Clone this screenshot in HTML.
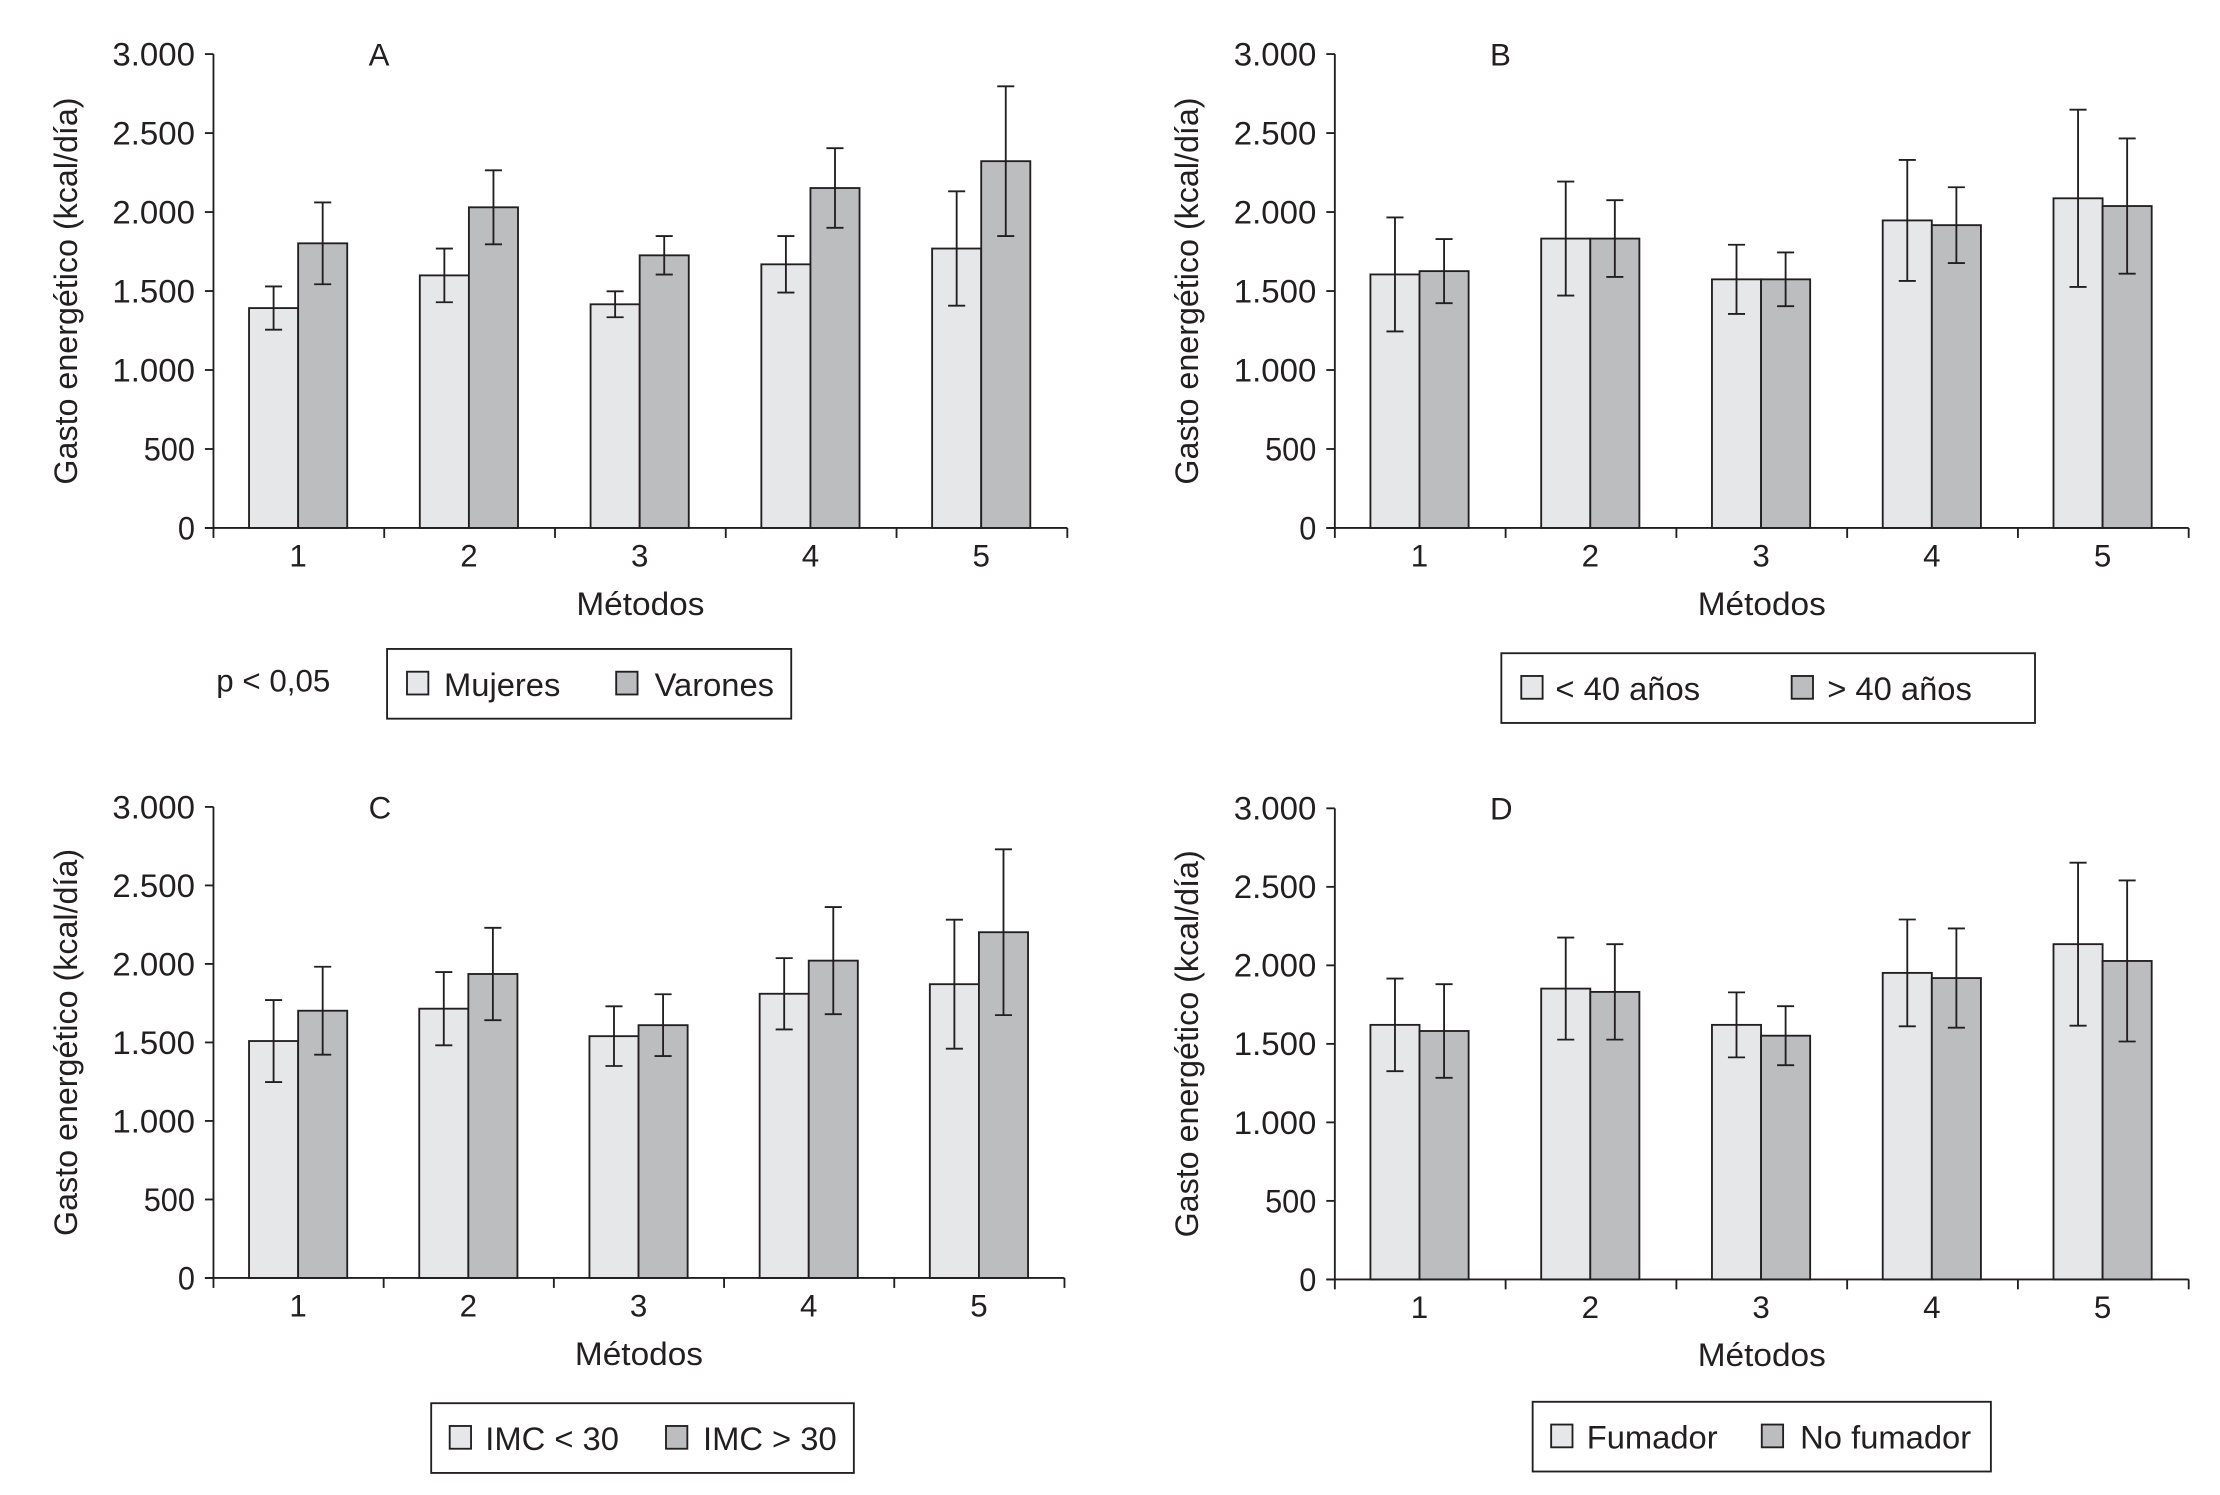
<!DOCTYPE html>
<html><head><meta charset="utf-8"><style>
html,body{margin:0;padding:0;background:#fff}
svg{display:block}
text{font-family:"Liberation Sans",sans-serif;fill:#231f20}
</style></head><body>
<svg id="chart" width="2220" height="1495" viewBox="0 0 1560 1050.5" preserveAspectRatio="none" xmlns="http://www.w3.org/2000/svg"></svg>
<script>
const categories = ["1","2","3","4","5"];
const yTicks = [0,500,1000,1500,2000,2500,3000];
const yTickLabels = ["0","500","1.000","1.500","2.000","2.500","3.000"];
// Panel A
const aLight = [1392,1599,1416,1669,1769];
const aLightErr = [137,170,82,179,362];
const aDark = [1802,2030,1726,2152,2322];
const aDarkErr = [259,234,122,252,474];
// Panel B
const bLight = [1605,1832,1574,1947,2087];
const bLightErr = [361,361,219,383,561];
const bDark = [1626,1832,1574,1917,2038];
const bDarkErr = [203,243,170,240,428];
// Panel C
const cLight = [1509,1715,1540,1810,1871];
const cLightErr = [261,233,190,227,411];
const cDark = [1702,1936,1610,2021,2202];
const cDarkErr = [280,294,197,341,528];
// Panel D
const dLight = [1621,1852,1621,1952,2135];
const dLightErr = [295,325,207,340,519];
const dDark = [1582,1831,1552,1919,2028];
const dDarkErr = [298,304,188,316,513];

const NS="http://www.w3.org/2000/svg";
const svg=document.getElementById('chart');
function mk(tag,attrs,parent){const e=document.createElementNS(NS,tag);for(const k in attrs)e.setAttribute(k,attrs[k]);(parent||svg).appendChild(e);return e;}

const panels=[
 {id:'a',letter:'A',x0:150,x1:750,top:38,y0:371,light:aLight,le:aLightErr,dark:aDark,de:aDarkErr,
  legend:{x:272,y:456,w:284,h:49,s1:286,t1:312,l1:'Mujeres',s2:433,t2:460,l2:'Varones'},note:true},
 {id:'b',letter:'B',x0:938,x1:1538,top:38,y0:371,light:bLight,le:bLightErr,dark:bDark,de:bDarkErr,
  legend:{x:1055,y:459,w:375,h:49,s1:1069,t1:1093,l1:'< 40 años',s2:1259,t2:1284,l2:'> 40 años'}},
 {id:'c',letter:'C',x0:150,x1:748,top:567,y0:898,light:cLight,le:cLightErr,dark:cDark,de:cDarkErr,
  legend:{x:303,y:986,w:297,h:49,s1:316,t1:341,l1:'IMC < 30',s2:468,t2:494,l2:'IMC > 30'}},
 {id:'d',letter:'D',x0:938,x1:1538,top:568,y0:899,light:dLight,le:dLightErr,dark:dDark,de:dDarkErr,
  legend:{x:1077,y:985,w:322,h:49,s1:1090,t1:1115,l1:'Fumador',s2:1238,t2:1265,l2:'No fumador'}}
];

panels.forEach(p=>{
  const g=mk('g',{});
  
  
  const yS=v=>p.y0-(v/3000)*(p.y0-p.top);
  const gw=(p.x1-p.x0)/categories.length;
  const bw=34.5;
  categories.forEach((c,i)=>{
    const gx=p.x0+i*gw+25;
    [[p.light,p.le,'#e6e7e9','light'],[p.dark,p.de,'#bcbdbf','dark']].forEach((s,j)=>{
      const v=s[0][i], e=s[1][i];
      const bx=gx+j*bw;
      const r=mk('rect',{x:bx,y:yS(v),width:bw,height:p.y0-yS(v),fill:s[2],stroke:'#231f20','stroke-width':1.3},g);
      
      
      const cx=bx+bw/2;
      const eb=mk('path',{d:`M${cx},${yS(v+e)}V${yS(v-e)}M${cx-6},${yS(v+e)}H${cx+6}M${cx-6},${yS(v-e)}H${cx+6}`,stroke:'#231f20','stroke-width':1.3,fill:'none'},g);
      
      
    });
  });
  const ya=mk('line',{x1:p.x0,y1:p.top,x2:p.x0,y2:p.y0,stroke:'#231f20','stroke-width':1.3},g);
  
  
  const xa=mk('line',{x1:p.x0-6,y1:p.y0,x2:p.x1,y2:p.y0,stroke:'#231f20','stroke-width':1.3},g);
  
  
  yTicks.forEach((t,i)=>{
    mk('line',{x1:p.x0-6,y1:yS(t),x2:p.x0,y2:yS(t),stroke:'#231f20','stroke-width':1.3},g);
    const len=yTickLabels[i].length;
    const tl=mk('text',{x:p.x0-13,y:yS(t)+8,'text-anchor':'end','font-size':23,textLength:len>3?58:(len*12),lengthAdjust:'spacingAndGlyphs'},g);
    tl.textContent=yTickLabels[i];
    
    
  });
  for(let i=0;i<=categories.length;i++){
    mk('line',{x1:p.x0+i*gw,y1:p.y0,x2:p.x0+i*gw,y2:p.y0+7,stroke:'#231f20','stroke-width':1.3},g);
  }
  categories.forEach((c,i)=>{
    const t=mk('text',{x:p.x0+i*gw+25+bw,y:p.y0+27,'text-anchor':'middle','font-size':22},g);
    t.textContent=c;
    
    
  });
  const xt=mk('text',{x:(p.x0+p.x1)/2,y:p.y0+61,'text-anchor':'middle','font-size':23,textLength:90,lengthAdjust:'spacingAndGlyphs'},g);
  xt.textContent='Métodos';
  
  
  const cy=(p.top+p.y0)/2;
  const yt=mk('text',{x:0,y:0,'text-anchor':'middle','font-size':22.5,textLength:272,lengthAdjust:'spacingAndGlyphs',transform:`translate(${p.x0-96},${cy}) rotate(-90)`},g);
  yt.textContent='Gasto energético (kcal/día)';
  
  
  const lt=mk('text',{x:p.x0+109,y:p.top+8,'font-size':22},g);
  lt.textContent=p.letter;
  
  
  const L=p.legend;
  const lg=mk('g',{},g);
  
  
  mk('rect',{x:L.x,y:L.y,width:L.w,height:L.h,fill:'none',stroke:'#231f20','stroke-width':1.3},lg);
  const sy=L.y+16;
  const e1=mk('rect',{x:L.s1,y:sy,width:15,height:16,fill:'#e6e7e9',stroke:'#231f20','stroke-width':1.3},lg);
  
  
  const t1=mk('text',{x:L.t1,y:L.y+33,'font-size':23},lg);
  t1.textContent=L.l1;
  
  
  const e2=mk('rect',{x:L.s2,y:sy,width:15,height:16,fill:'#bcbdbf',stroke:'#231f20','stroke-width':1.3},lg);
  
  
  const t2=mk('text',{x:L.t2,y:L.y+33,'font-size':23},lg);
  t2.textContent=L.l2;
  
  
  if(p.note){
    const n=mk('text',{x:152,y:486,'font-size':22},g);
    n.textContent='p < 0,05';
    
    
  }
});
</script>
</body></html>
